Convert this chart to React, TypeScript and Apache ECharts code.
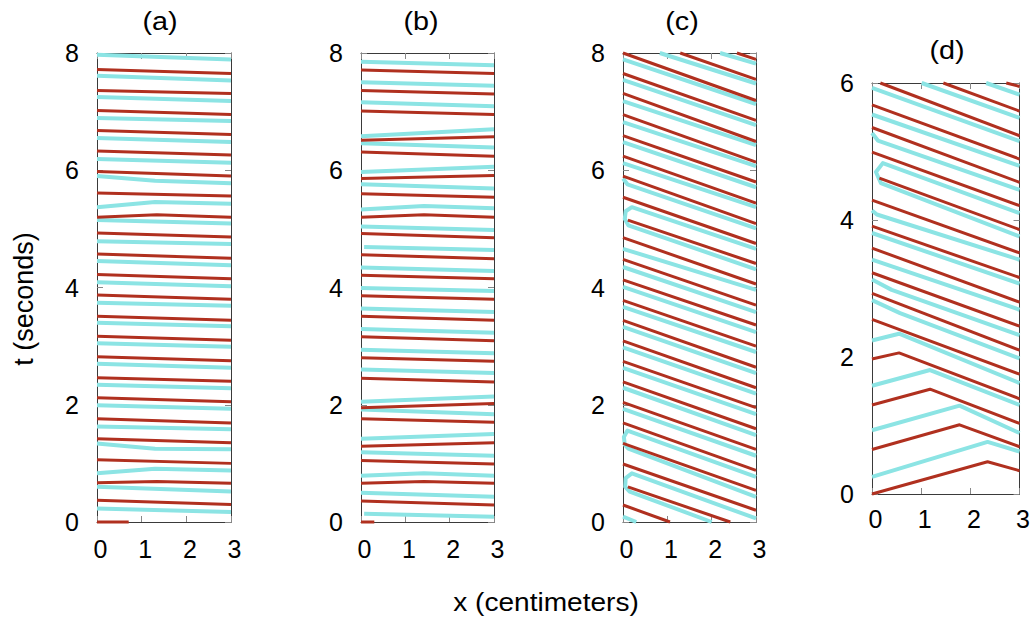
import React, { useEffect, useRef } from 'react';
import * as echarts from 'echarts';

type Pt = [number, number];
type Poly = Pt[];

// ---------- data (x in cm, t in s) ----------
const PANEL_TITLES = ['(a)', '(b)', '(c)', '(d)'];
const X_MAX = 3;
const T_MAX = [8, 8, 8, 6];
const T_STEP = 2;
const X_NAME = 'x (centimeters)';
const T_NAME = 't (seconds)';

const A_RED: Poly[] = [
  [[0, 7.72], [3, 7.65]], [[0, 7.36], [3, 7.31]], [[0, 7.02], [3, 6.95]], [[0, 6.68], [3, 6.61]],
  [[0, 6.33], [3, 6.26]], [[0, 5.98], [3, 5.9]], [[0, 5.61], [3, 5.56]],
  [[0, 5.2], [1.34, 5.24], [3, 5.2]],
  [[0, 4.93], [3, 4.86]], [[0, 4.57], [3, 4.5]], [[0, 4.22], [3, 4.15]], [[0, 3.87], [3, 3.8]],
  [[0, 3.51], [3, 3.44]], [[0, 3.17], [3, 3.1]], [[0, 2.82], [3, 2.75]], [[0, 2.46], [3, 2.4]],
  [[0, 2.12], [3, 2.05]], [[0, 1.76], [3, 1.69]], [[0, 1.42], [3, 1.35]], [[0, 1.06], [3, 1.0]],
  [[0, 0.67], [1.34, 0.69], [3, 0.66]],
  [[0, 0.37], [3, 0.3]],
  [[0, 0], [0.71, 0]],
];
const A_CYAN: Poly[] = [
  [[0, 7.97], [3, 7.89]], [[0, 7.61], [3, 7.53]], [[0, 7.25], [3, 7.18]], [[0, 6.89], [3, 6.84]],
  [[0, 6.55], [3, 6.48]], [[0, 6.19], [3, 6.13]],
  [[0, 5.9], [1.3, 5.82], [3, 5.78]],
  [[0, 5.37], [1.3, 5.46], [3, 5.43]],
  [[0, 5.15], [3, 5.09]], [[0, 4.79], [3, 4.74]], [[0, 4.45], [3, 4.38]], [[0, 4.09], [3, 4.02]],
  [[0, 3.74], [3, 3.69]], [[0, 3.4], [3, 3.34]], [[0, 3.05], [3, 2.99]], [[0, 2.7], [3, 2.63]],
  [[0, 2.34], [3, 2.28]], [[0, 1.99], [3, 1.93]], [[0, 1.63], [3, 1.58]],
  [[0, 1.34], [1.3, 1.25], [3, 1.24]],
  [[0, 0.83], [1.3, 0.91], [3, 0.88]],
  [[0, 0.6], [3, 0.52]], [[0, 0.23], [3, 0.17]],
];

const B_RED: Poly[] = [
  [[0, 7.71], [3, 7.65]], [[0, 7.36], [3, 7.3]], [[0, 7.01], [3, 6.95]], [[0, 6.51], [3, 6.57]],
  [[0, 6.31], [3, 6.24]], [[0, 5.86], [3, 5.91]], [[0, 5.6], [3, 5.54]],
  [[0, 5.2], [1.42, 5.24], [3, 5.2]],
  [[0, 4.92], [3, 4.85]], [[0, 4.56], [3, 4.49]], [[0, 4.21], [3, 4.15]], [[0, 3.86], [3, 3.8]],
  [[0, 3.51], [3, 3.44]], [[0, 3.16], [3, 3.09]], [[0, 2.8], [3, 2.74]], [[0, 2.45], [3, 2.39]],
  [[0, 1.95], [3, 2.02]], [[0, 1.76], [3, 1.7]], [[0, 1.29], [3, 1.35]], [[0, 1.05], [3, 0.99]],
  [[0, 0.66], [1.42, 0.69], [3, 0.66]],
  [[0, 0.36], [3, 0.29]],
  [[0, 0], [0.3, 0]],
];
const B_CYAN: Poly[] = [
  [[0, 7.85], [3, 7.79]], [[0, 7.5], [3, 7.44]], [[0, 7.16], [3, 7.09]], [[0, 6.58], [3, 6.7]],
  [[0, 6.46], [3, 6.39]], [[0, 5.97], [3, 6.06]], [[0, 5.76], [3, 5.69]],
  [[0, 5.33], [1.42, 5.39], [3, 5.35]],
  [[0, 5.04], [3, 4.98]], [[0.07, 4.69], [3, 4.64]], [[0, 4.34], [3, 4.28]], [[0, 3.99], [3, 3.94]],
  [[0, 3.64], [3, 3.58]], [[0, 3.29], [3, 3.23]], [[0, 2.94], [3, 2.88]], [[0, 2.6], [3, 2.54]],
  [[0, 2.05], [3, 2.14]], [[0, 1.92], [3, 1.84]], [[0, 1.42], [3, 1.5]], [[0, 1.19], [3, 1.13]],
  [[0, 0.79], [1.42, 0.83], [3, 0.79]],
  [[0, 0.5], [3, 0.43]], [[0.07, 0.14], [3, 0.09]],
];

const C_RED: Poly[] = [
  [[2.57, 8], [3, 7.89]], [[1.29, 8], [3, 7.55]],
  [[0, 8], [3, 7.19]], [[0, 7.65], [3, 6.85]], [[0, 7.31], [3, 6.49]], [[0, 6.95], [3, 6.14]],
  [[0, 6.59], [3, 5.8]], [[0, 6.24], [3, 5.44]], [[0, 5.9], [3, 5.09]], [[0, 5.54], [3, 4.75]],
  [[0.11, 5.15], [3, 4.41]], [[0, 4.85], [3, 4.06]], [[0, 4.48], [3, 3.7]], [[0, 4.13], [3, 3.36]],
  [[0, 3.78], [3, 3.0]], [[0, 3.44], [3, 2.64]], [[0, 3.09], [3, 2.29]], [[0, 2.74], [3, 1.95]],
  [[0, 2.39], [3, 1.59]], [[0, 2.04], [3, 1.24]], [[0, 1.69], [3, 0.88]], [[0, 1.34], [3, 0.54]],
  [[0, 0.99], [3, 0.2]], [[0.11, 0.6], [2.42, 0]], [[0, 0.29], [1.06, 0]],
];
const C_CYAN: Poly[] = [
  [[2.19, 8], [3, 7.82]], [[0.83, 8], [3, 7.48]],
  [[0, 7.89], [3, 7.13]], [[0, 7.54], [3, 6.77]], [[0, 7.18], [3, 6.43]], [[0, 6.82], [3, 6.07]],
  [[0, 6.48], [3, 5.71]], [[0, 6.12], [3, 5.37]],
  [[0, 5.86], [0.1, 5.76], [3, 5.01]],
  [[3, 4.66], [0.2, 5.37], [0.06, 5.3], [0.04, 5.17], [0.12, 5.06], [3, 4.31]],
  [[0, 4.66], [3, 3.96]], [[0, 4.35], [3, 3.58]], [[0, 4.01], [3, 3.24]], [[0, 3.67], [3, 2.9]],
  [[0, 3.33], [3, 2.54]], [[0, 2.98], [3, 2.19]], [[0, 2.63], [3, 1.84]], [[0, 2.29], [3, 1.48]],
  [[0, 1.93], [3, 1.13]],
  [[3, 0.77], [0.1, 1.56], [0.02, 1.45], [0.04, 1.32], [0.12, 1.25], [3, 0.43]],
  [[3, 0.06], [0.2, 0.83], [0.06, 0.75], [0.05, 0.6], [0.15, 0.52], [2.0, 0]],
  [[0, 0.09], [0.3, 0]],
];

const D_RED: Poly[] = [
  [[2.73, 6], [3, 5.95]], [[1.45, 6], [3, 5.59]], [[0.17, 6], [3, 5.23]],
  [[0, 5.68], [3, 4.89]], [[0, 5.35], [3, 4.55]], [[0, 4.99], [3, 4.21]], [[0.15, 4.61], [3, 3.86]],
  [[0, 4.29], [3, 3.52]], [[0, 3.91], [3, 3.16]], [[0, 3.59], [3, 2.8]], [[0, 3.23], [3, 2.45]],
  [[0, 2.93], [3, 2.1]], [[0, 2.55], [3, 1.75]],
  [[0, 1.97], [0.55, 2.06], [3, 1.39]],
  [[0, 1.3], [1.18, 1.53], [3, 1.03]],
  [[0, 0.65], [1.78, 1.01], [3, 0.69]],
  [[0, 0], [2.35, 0.47], [3, 0.34]],
];
const D_CYAN: Poly[] = [
  [[2.32, 6], [3, 5.83]], [[1.01, 6], [3, 5.49]],
  [[0, 5.93], [3, 5.15]], [[0, 5.54], [3, 4.79]],
  [[0, 5.27], [0.12, 5.16], [3, 4.44]],
  [[3, 4.1], [0.22, 4.83], [0.08, 4.7], [0.18, 4.54], [3, 3.76]],
  [[0, 4.14], [0.1, 4.08], [3, 3.42]],
  [[0, 3.81], [3, 3.07]], [[0, 3.42], [3, 2.69]],
  [[0, 3.13], [0.4, 2.98], [3, 2.32]],
  [[0, 2.83], [0.57, 2.64], [3, 1.98]],
  [[0, 2.24], [0.55, 2.34], [3, 1.62]],
  [[0, 1.58], [1.18, 1.81], [3, 1.3]],
  [[0, 0.93], [1.78, 1.29], [3, 0.89]],
  [[0, 0.25], [2.35, 0.76], [3, 0.62]],
];

const PANEL_RED = [A_RED, B_RED, C_RED, D_RED];
const PANEL_CYAN = [A_CYAN, B_CYAN, C_CYAN, D_CYAN];

// ---------- styling / layout ----------
const RED = '#b0301f';
const CYAN = '#8ce4e4';
const FONT = "'Liberation Sans', Arial, Helvetica, sans-serif";
const GRIDS = [
  { left: 97, top: 53, width: 134, height: 469 },
  { left: 361, top: 53, width: 133, height: 469 },
  { left: 623, top: 53, width: 133, height: 469 },
  { left: 872, top: 83, width: 148, height: 411 },
];
const TITLE_POS: [number, number][] = [[160, 22], [421, 22], [682, 22], [947, 51]];

function buildOption() {
  const grid: any[] = [];
  const xAxis: any[] = [];
  const yAxis: any[] = [];
  const series: any[] = [];
  const tickStyle = { show: true, inside: true, length: 6, lineStyle: { color: '#888', width: 1 } };
  const lineStyle = { show: true, onZero: false, lineStyle: { color: '#3a3a3a', width: 1 } };
  const labelStyle = { color: '#000', fontSize: 25, fontFamily: FONT };

  GRIDS.forEach((g, i) => {
    grid.push({ ...g, containLabel: false });
    const tMax = T_MAX[i];
    xAxis.push({
      type: 'value', gridIndex: i, min: 0, max: X_MAX, interval: 1, position: 'bottom',
      axisLine: lineStyle, axisTick: tickStyle, splitLine: { show: false },
      axisLabel: { ...labelStyle, margin: i === 3 ? 12 : 14, padding: [0, 0, 0, 7] },
    });
    xAxis.push({
      type: 'value', gridIndex: i, min: 0, max: X_MAX, interval: 1, position: 'top',
      axisLine: lineStyle, axisTick: tickStyle, splitLine: { show: false }, axisLabel: { show: false },
    });
    yAxis.push({
      type: 'value', gridIndex: i, min: 0, max: tMax, interval: T_STEP, position: 'left',
      axisLine: lineStyle, axisTick: tickStyle, splitLine: { show: false },
      axisLabel: { ...labelStyle, margin: 18 },
    });
    yAxis.push({
      type: 'value', gridIndex: i, min: 0, max: tMax, interval: T_STEP, position: 'right',
      axisLine: lineStyle, axisTick: tickStyle, splitLine: { show: false }, axisLabel: { show: false },
    });
    const add = (polys: Poly[], color: string, width: number, z: number) => {
      polys.forEach((p) => {
        series.push({
          type: 'line', xAxisIndex: 2 * i, yAxisIndex: 2 * i, data: p, symbol: 'none',
          showSymbol: false, clip: false, silent: true, z,
          lineStyle: { color, width, join: 'round', cap: 'butt' },
        });
      });
    };
    add(PANEL_CYAN[i], CYAN, 4, 2);
    add(PANEL_RED[i], RED, 3, 3);
  });

  const graphic: any[] = PANEL_TITLES.map((t, i) => ({
    type: 'text', x: TITLE_POS[i][0], y: TITLE_POS[i][1], scaleX: 1.15,
    style: { text: t, fill: '#000', font: `25px ${FONT}`, align: 'center', verticalAlign: 'middle' },
  }));
  graphic.push({
    type: 'text', x: 546, y: 602, scaleX: 1.08,
    style: { text: X_NAME, fill: '#000', font: `26px ${FONT}`, align: 'center', verticalAlign: 'middle' },
  });
  graphic.push({
    type: 'text', x: 24, y: 299, rotation: Math.PI / 2,
    style: { text: T_NAME, fill: '#000', font: `27px ${FONT}`, align: 'center', verticalAlign: 'middle' },
  });

  return { animation: false, backgroundColor: '#fff', grid, xAxis, yAxis, series, graphic };
}

export default function App() {
  const ref = useRef<HTMLDivElement>(null);
  useEffect(() => {
    if (!ref.current) return;
    const chart = echarts.init(ref.current, undefined, { renderer: 'svg' });
    chart.setOption(buildOption() as any);
    return () => chart.dispose();
  }, []);
  return (
    <div
      ref={ref}
      style={{ position: 'fixed', left: 0, top: 0, width: 1033, height: 617, background: '#fff' }}
    />
  );
}
